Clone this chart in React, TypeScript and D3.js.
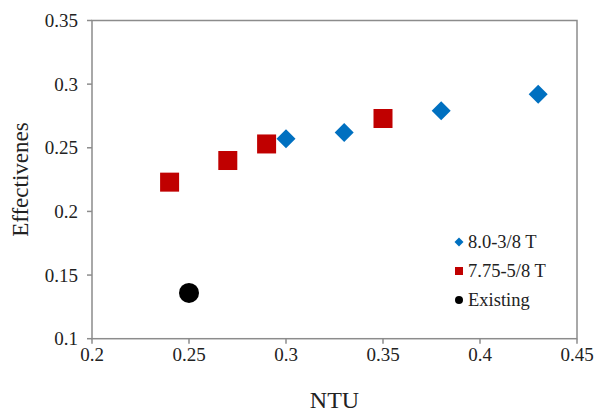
import React from "react";
import * as d3 from "d3";

const seriesBlueX = [0.30, 0.33, 0.38, 0.43];
const seriesBlueY = [0.257, 0.262, 0.279, 0.292];
const seriesRedX = [0.24, 0.27, 0.29, 0.35];
const seriesRedY = [0.223, 0.240, 0.253, 0.273];
const existingX = [0.25];
const existingY = [0.136];
const xTicks = [0.2, 0.25, 0.3, 0.35, 0.4, 0.45];
const yTicks = [0.1, 0.15, 0.2, 0.25, 0.3, 0.35];
const legendLabels = ["8.0-3/8 T", "7.75-5/8 T", "Existing"];

const W = 596, H = 414;
const L = 92, R = 577, T = 20.5, B = 338.7;
const font = "'Liberation Serif', 'Times New Roman', serif";
const axisColor = "#8c8c8c";
const blue = "#0070C0", red = "#C00000";

export default function App() {
  const x = d3.scaleLinear().domain([0.2, 0.45]).range([L, R]);
  const y = d3.scaleLinear().domain([0.1, 0.35]).range([B, T]);
  const diamond = (cx: number, cy: number, r: number) =>
    `M${cx},${cy - r}L${cx + r},${cy}L${cx},${cy + r}L${cx - r},${cy}Z`;
  const fmt = (v: number) => String(+v.toFixed(2));
  return (
    <svg width={W} height={H} style={{ position: "absolute", left: 0, top: 0 }}>
      <rect x={0} y={0} width={W} height={H} fill="#fff" />
      <rect x={L} y={T} width={R - L} height={B - T} fill="none" stroke={axisColor} strokeWidth={1.5} />
      {yTicks.map((t) => (
        <g key={"y" + t}>
          <line x1={L - 5} x2={L} y1={y(t)} y2={y(t)} stroke={axisColor} strokeWidth={1.5} />
          <text x={L - 14} y={y(t)} dy="0.35em" textAnchor="end" fontFamily={font} fontSize={19} fill="#222">
            {fmt(t)}
          </text>
        </g>
      ))}
      {xTicks.map((t) => (
        <g key={"x" + t}>
          <line x1={x(t)} x2={x(t)} y1={B} y2={B + 5} stroke={axisColor} strokeWidth={1.5} />
          <text x={x(t)} y={B + 22} textAnchor="middle" fontFamily={font} fontSize={19} fill="#222">
            {fmt(t)}
          </text>
        </g>
      ))}
      <text x={(L + R) / 2} y={408} textAnchor="middle" fontFamily={font} fontSize={24} fill="#222">NTU</text>
      <text transform={`translate(28,${(T + B) / 2}) rotate(-90)`} textAnchor="middle" fontFamily={font} fontSize={23} fill="#222">
        Effectivenes
      </text>
      {seriesRedX.map((v, i) => (
        <rect key={"r" + i} x={x(v) - 9.5} y={y(seriesRedY[i]) - 9.5} width={19} height={19} fill={red} />
      ))}
      {seriesBlueX.map((v, i) => (
        <path key={"b" + i} d={diamond(x(v), y(seriesBlueY[i]), 9.5)} fill={blue} />
      ))}
      {existingX.map((v, i) => (
        <circle key={"e" + i} cx={x(v)} cy={y(existingY[i])} r={10} fill="#000" />
      ))}
      <g>
        <path d={diamond(459, 242, 4.5)} fill={blue} />
        <rect x={455} y={267} width={8} height={8} fill={red} />
        <circle cx={459} cy={300} r={4} fill="#000" />
        {legendLabels.map((s, i) => (
          <text key={s} x={468} y={242 + i * 29} dy="0.35em" fontFamily={font} fontSize={18.5} fill="#222">
            {s}
          </text>
        ))}
      </g>
    </svg>
  );
}
